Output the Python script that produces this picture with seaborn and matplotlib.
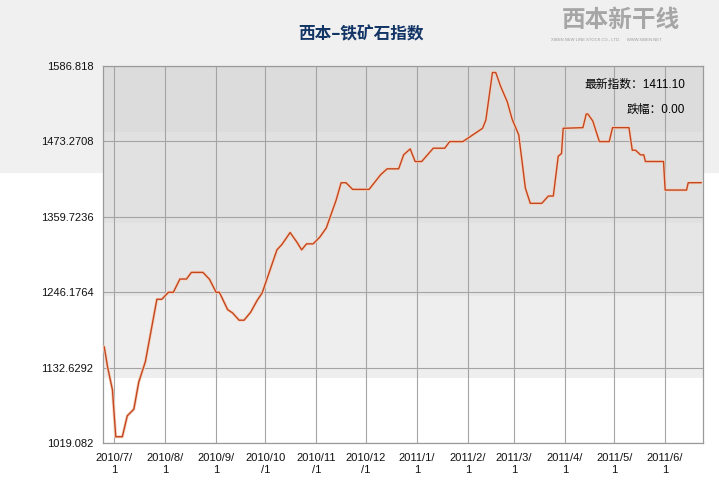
import pandas as pd
import numpy as np
import matplotlib
matplotlib.use('Agg')
import matplotlib.pyplot as plt
import matplotlib.patheffects as pe
import seaborn as sns

# iron ore index
dates = ['2010-06-25', '2010-06-27', '2010-06-30', '2010-07-02', '2010-07-06', '2010-07-09',
         '2010-07-13', '2010-07-16', '2010-07-20', '2010-07-27', '2010-07-30', '2010-08-03',
         '2010-08-06', '2010-08-10', '2010-08-14', '2010-08-17', '2010-08-24', '2010-08-28',
         '2010-09-01', '2010-09-03', '2010-09-08', '2010-09-11', '2010-09-15', '2010-09-18',
         '2010-09-22', '2010-09-26', '2010-09-29', '2010-10-08', '2010-10-11', '2010-10-16',
         '2010-10-20', '2010-10-23', '2010-10-26', '2010-10-30', '2010-11-03', '2010-11-07',
         '2010-11-09', '2010-11-13', '2010-11-16', '2010-11-19', '2010-11-23', '2010-12-03',
         '2010-12-10', '2010-12-14', '2010-12-21', '2010-12-24', '2010-12-28', '2010-12-31',
         '2011-01-04', '2011-01-11', '2011-01-18', '2011-01-21', '2011-01-29', '2011-02-10',
         '2011-02-12', '2011-02-16', '2011-02-18', '2011-02-21', '2011-02-25', '2011-02-28',
         '2011-03-04', '2011-03-08', '2011-03-11', '2011-03-18', '2011-03-22', '2011-03-25',
         '2011-03-28', '2011-03-30', '2011-03-31', '2011-04-12', '2011-04-14', '2011-04-15',
         '2011-04-18', '2011-04-22', '2011-04-28', '2011-04-30', '2011-05-10', '2011-05-12',
         '2011-05-14', '2011-05-17', '2011-05-19', '2011-05-20', '2011-05-31', '2011-06-01',
         '2011-06-14', '2011-06-15', '2011-06-23']
index_values = [1164, 1134, 1099, 1028.5, 1028.5, 1060, 1070, 1111, 1141.5, 1235.5, 1235.5, 1246,
                1246, 1266, 1266, 1276, 1276, 1265.6, 1246, 1246, 1220, 1215, 1204, 1204,
                1216, 1234, 1245, 1310, 1318, 1336, 1322, 1310, 1319, 1319, 1329, 1343,
                1357, 1385, 1411, 1411, 1401, 1401, 1423, 1432, 1432, 1453, 1462, 1443,
                1443, 1463, 1463, 1473, 1473, 1493, 1505.5, 1577, 1577, 1556, 1533, 1506.5,
                1483, 1403, 1380, 1380, 1391, 1391, 1451, 1455, 1493, 1494, 1514.5, 1514.5,
                1504, 1473, 1473, 1494, 1494, 1460, 1460, 1453, 1453, 1443, 1443, 1400,
                1400, 1411, 1411.1]

y_ticks = [1019.082, 1132.6292, 1246.1764, 1359.7236, 1473.2708, 1586.818]
y_labels = ['1019.082', '1132.6292', '1246.1764', '1359.7236', '1473.2708', '1586.818']
x_ticks = ['2010-07-01', '2010-08-01', '2010-09-01', '2010-10-01', '2010-11-01', '2010-12-01',
           '2011-01-01', '2011-02-01', '2011-03-01', '2011-04-01', '2011-05-01', '2011-06-01']
x_labels = ['2010/7/\n1', '2010/8/\n1', '2010/9/\n1', '2010/10\n/1', '2010/11\n/1', '2010/12\n/1',
            '2011/1/\n1', '2011/2/\n1', '2011/3/\n1', '2011/4/\n1', '2011/5/\n1', '2011/6/\n1']

df = pd.DataFrame({'date': pd.to_datetime(dates), 'value': index_values})

sns.set_style('white')
plt.rcParams['font.family'] = ['Liberation Sans', 'Noto Sans CJK SC', 'DejaVu Sans']

fig = plt.figure(figsize=(7.19, 4.93), dpi=100)
fig.patch.set_facecolor('white')
# light grey header band behind the top of the chart
fig.patches.append(plt.Rectangle((0, 1 - 173 / 493), 1, 173 / 493, transform=fig.transFigure,
                                 facecolor='#f0f0f0', edgecolor='none', zorder=-10))

ax = fig.add_axes([103 / 719, 1 - 443 / 493, 600 / 719, 377 / 493])
ax.set_facecolor('none')

# stepped grey fill of the plot area
bands = [(1487.4, 1586.818, '#dcdcdc'), (1350.4, 1487.4, '#e1e1e1'),
         (1240.4, 1350.4, '#e6e6e6'), (1117.0, 1240.4, '#eeeeee'), (1019.082, 1117.0, '#ffffff')]
for lo, hi, c in bands:
    ax.axhspan(lo, hi, color=c, zorder=0, lw=0)

sns.lineplot(data=df, x='date', y='value', ax=ax, color='#c4451f', linewidth=1.0, zorder=3,
             path_effects=[pe.Stroke(linewidth=2.2, foreground='#f3d2bc'), pe.Normal()])

ax.set_ylim(y_ticks[0], y_ticks[-1])
ax.set_xlim(pd.Timestamp('2010-06-24 06:00'), pd.Timestamp('2011-06-24'))
ax.set_yticks(y_ticks)
ax.set_yticklabels(y_labels)
ax.set_xticks(pd.to_datetime(x_ticks))
ax.set_xticklabels(x_labels, linespacing=1.3)
ax.set_xlabel('')
ax.set_ylabel('')

ax.grid(True, color='#a4a4a4', linewidth=0.8, zorder=1)
ax.set_axisbelow(True)
ax.tick_params(axis='both', direction='out', length=5, width=1, color='black',
               labelsize=8, labelcolor='#111111', pad=2)
for s in ax.spines.values():
    s.set_color('#9a9a9a')
    s.set_linewidth(0.9)

fig.text(361 / 719, 1 - 34 / 493, '西本–铁矿石指数', ha='center', va='center', fontsize=12,
         fontweight='bold', color='#123566', family=['Noto Sans CJK SC', 'DejaVu Sans'])

# logo text
fig.text(562 / 719, 1 - 20 / 493, '西本新干线', ha='left', va='center', fontsize=17,
         style='italic', fontweight='bold', color='#a6a6a6',
         family=['Noto Sans CJK SC', 'DejaVu Sans'])
fig.text(606 / 719, 1 - 40 / 493, 'XIBEN NEW LINE STOCK CO., LTD.      WWW.XIBEN.NET',
         ha='center', va='center', fontsize=3, color='#9a9a9a')

ax.text(0.97, 0.95, '最新指数：1411.10', transform=ax.transAxes, ha='right', va='center',
        fontsize=8.5, color='black')
ax.text(0.97, 0.885, '跌幅：0.00', transform=ax.transAxes, ha='right', va='center',
        fontsize=8.5, color='black')

fig.savefig('out.png', dpi=100, facecolor=fig.get_facecolor())
